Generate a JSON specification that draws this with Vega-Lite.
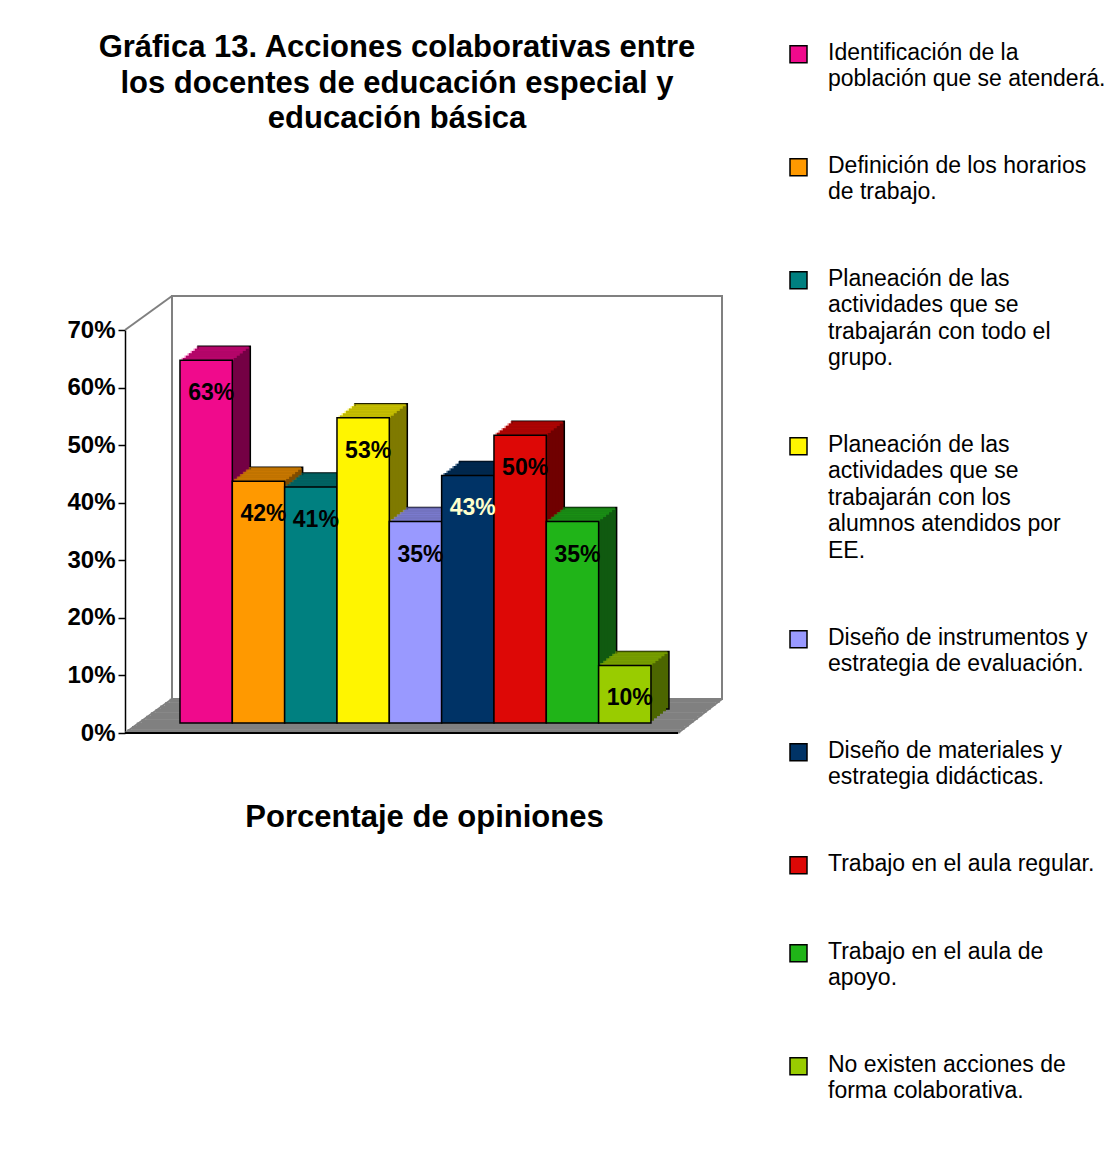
{
  "$schema": "https://vega.github.io/schema/vega-lite/v6.json",
  "autosize": "none",
  "width": 550,
  "height": 403,
  "padding": {"left": 172, "top": 296, "right": 398, "bottom": 477},
  "background": "white",
  "title": {
    "text": ["Gráfica 13. Acciones colaborativas entre", "los docentes de educación especial y", "educación básica"],
    "font": "Liberation Sans",
    "fontSize": 31,
    "fontWeight": "bold",
    "lineHeight": 35.5,
    "anchor": "middle",
    "frame": "group",
    "dx": -50,
    "offset": -105,
    "color": "black"
  },
  "data": {
    "values": [
      {"accion": "Identificación de la\npoblación que se atenderá.", "porcentaje": 0.63},
      {"accion": "Definición de los horarios\nde trabajo.", "porcentaje": 0.42},
      {"accion": "Planeación de las\nactividades que se\ntrabajarán con todo el\ngrupo.", "porcentaje": 0.41},
      {"accion": "Planeación de las\nactividades que se\ntrabajarán con los\nalumnos atendidos por\nEE.", "porcentaje": 0.53},
      {"accion": "Diseño de instrumentos y\nestrategia de evaluación.", "porcentaje": 0.35},
      {"accion": "Diseño de materiales y\nestrategia didácticas.", "porcentaje": 0.43},
      {"accion": "Trabajo en el aula regular.", "porcentaje": 0.50},
      {"accion": "Trabajo en el aula de\napoyo.", "porcentaje": 0.35},
      {"accion": "No existen acciones de\nforma colaborativa.", "porcentaje": 0.10}
    ]
  },
  "resolve": {"scale": {"x": "independent"}},
  "layer": [
    {
      "transform": [{"aggregate": [{"op": "count", "as": "n"}]}],
      "encoding": {
        "x": {"datum": 0, "type": "quantitative", "scale": {"domain": [0, 1], "nice": false, "zero": false}, "axis": null},
        "x2": {"datum": 1},
        "y": {"datum": 0}
      },
      "layer": [
        {"mark": {"type": "rule", "color": "#808080", "strokeWidth": 3.9, "xOffset": -44.65, "x2Offset": -41.8, "yOffset": -1.7}},
        {"mark": {"type": "rule", "color": "#808080", "strokeWidth": 3.9, "xOffset": -39.95, "x2Offset": -37.4, "yOffset": -5.1}},
        {"mark": {"type": "rule", "color": "#808080", "strokeWidth": 3.9, "xOffset": -35.25, "x2Offset": -33.0, "yOffset": -8.5}},
        {"mark": {"type": "rule", "color": "#808080", "strokeWidth": 3.9, "xOffset": -30.55, "x2Offset": -28.6, "yOffset": -11.9}},
        {"mark": {"type": "rule", "color": "#808080", "strokeWidth": 3.9, "xOffset": -25.85, "x2Offset": -24.2, "yOffset": -15.3}},
        {"mark": {"type": "rule", "color": "#808080", "strokeWidth": 3.9, "xOffset": -21.15, "x2Offset": -19.8, "yOffset": -18.7}},
        {"mark": {"type": "rule", "color": "#808080", "strokeWidth": 3.9, "xOffset": -16.45, "x2Offset": -15.4, "yOffset": -22.1}},
        {"mark": {"type": "rule", "color": "#808080", "strokeWidth": 3.9, "xOffset": -11.75, "x2Offset": -11.0, "yOffset": -25.5}},
        {"mark": {"type": "rule", "color": "#808080", "strokeWidth": 3.9, "xOffset": -7.05, "x2Offset": -6.6, "yOffset": -28.9}},
        {"mark": {"type": "rule", "color": "#808080", "strokeWidth": 3.9, "xOffset": -2.35, "x2Offset": -2.2, "yOffset": -32.3}},
        {"mark": {"type": "rule", "color": "#808080", "strokeWidth": 2, "xOffset": -47, "x2Offset": 0, "yOffset": 0, "y2Offset": -34}, "encoding": {"x2": {"datum": 0}, "y2": {"datum": 0}}},
        {"mark": {"type": "rule", "color": "#808080", "strokeWidth": 2, "xOffset": -44, "x2Offset": 0, "yOffset": 0, "y2Offset": -34}, "encoding": {"x": {"datum": 1}, "x2": {"datum": 1}, "y2": {"datum": 0}}},
        {"mark": {"type": "rule", "color": "#808080", "strokeWidth": 2, "xOffset": -47, "x2Offset": 0, "yOffset": 0, "y2Offset": -34}, "encoding": {"x2": {"datum": 0}, "y": {"datum": 0.7}, "y2": {"datum": 0.7}}},
        {"mark": {"type": "rule", "color": "black", "strokeWidth": 2, "xOffset": -47, "x2Offset": -44, "yOffset": 0}}
      ]
    },
    {
      "encoding": {
        "x": {
          "field": "accion",
          "type": "nominal",
          "sort": null,
          "scale": {"paddingInner": 0, "paddingOuter": 0.755, "align": 0.101},
          "axis": {
            "title": "Porcentaje de opiniones",
            "labels": false,
            "ticks": false,
            "domain": false,
            "titleFont": "Liberation Sans",
            "titleFontSize": 31,
            "titleFontWeight": "bold",
            "titleColor": "black",
            "titlePadding": 103,
            "titleX": 252
          }
        },
        "y": {
          "field": "porcentaje",
          "type": "quantitative",
          "scale": {"domain": [0, 0.7], "range": [437, 34], "nice": false, "zero": true},
          "axis": {
            "title": null,
            "values": [0, 0.1, 0.2, 0.3, 0.4, 0.5, 0.6, 0.7],
            "format": ".0%",
            "grid": false,
            "offset": 47,
            "domainColor": "black",
            "domainWidth": 1.5,
            "tickColor": "black",
            "tickSize": 7,
            "tickWidth": 1.5,
            "labelFont": "Liberation Sans",
            "labelFontSize": 24,
            "labelFontWeight": "bold",
            "labelColor": "black",
            "labelPadding": 3
          }
        }
      },
      "layer": [
        {"mark": {"type": "bar", "xOffset": 18, "yOffset": -24, "stroke": "black", "strokeWidth": 1.5}, "encoding": {"color": {"field": "accion", "type": "nominal", "sort": null, "scale": {"range": ["#740044", "#804C00", "#004040", "#7F7A00", "#4C4C80", "#001A33", "#700000", "#105A10", "#4C6600"]}, "legend": null}}},
        {"mark": {"type": "bar", "xOffset": 15, "yOffset": -21.667}, "encoding": {"color": {"field": "accion", "type": "nominal", "sort": null}}},
        {"mark": {"type": "bar", "xOffset": 12, "yOffset": -19.333}, "encoding": {"color": {"field": "accion", "type": "nominal", "sort": null}}},
        {"mark": {"type": "bar", "xOffset": 9, "yOffset": -17}, "encoding": {"color": {"field": "accion", "type": "nominal", "sort": null}}},
        {"mark": {"type": "bar", "xOffset": 6, "yOffset": -14.667}, "encoding": {"color": {"field": "accion", "type": "nominal", "sort": null}}},
        {"mark": {"type": "bar", "xOffset": 3, "yOffset": -12.333}, "encoding": {"color": {"field": "accion", "type": "nominal", "sort": null}}},
        {"mark": {"type": "tick", "orient": "horizontal", "size": 52.3, "thickness": 2.6, "fillOpacity": 0.5, "xOffset": 16.5, "yOffset": -22.833}, "encoding": {"fill": {"field": "accion", "type": "nominal", "sort": null}}},
        {"mark": {"type": "tick", "orient": "horizontal", "size": 52.3, "thickness": 2.6, "fillOpacity": 0.5, "xOffset": 13.5, "yOffset": -20.5}, "encoding": {"fill": {"field": "accion", "type": "nominal", "sort": null}}},
        {"mark": {"type": "tick", "orient": "horizontal", "size": 52.3, "thickness": 2.6, "fillOpacity": 0.5, "xOffset": 10.5, "yOffset": -18.167}, "encoding": {"fill": {"field": "accion", "type": "nominal", "sort": null}}},
        {"mark": {"type": "tick", "orient": "horizontal", "size": 52.3, "thickness": 2.6, "fillOpacity": 0.5, "xOffset": 7.5, "yOffset": -15.833}, "encoding": {"fill": {"field": "accion", "type": "nominal", "sort": null}}},
        {"mark": {"type": "tick", "orient": "horizontal", "size": 52.3, "thickness": 2.6, "fillOpacity": 0.5, "xOffset": 4.5, "yOffset": -13.5}, "encoding": {"fill": {"field": "accion", "type": "nominal", "sort": null}}},
        {"mark": {"type": "tick", "orient": "horizontal", "size": 52.3, "thickness": 2.6, "fillOpacity": 0.5, "xOffset": 1.5, "yOffset": -11.167}, "encoding": {"fill": {"field": "accion", "type": "nominal", "sort": null}}},
        {
          "mark": {"type": "bar", "yOffset": -10, "stroke": "black", "strokeWidth": 1.5, "fillOpacity": 1},
          "encoding": {
            "fill": {
              "field": "accion",
              "type": "nominal",
              "sort": null,
              "scale": {"range": ["#F00A8C", "#FF9900", "#008080", "#FFF500", "#9999FF", "#003366", "#DD0806", "#20B418", "#99CC00"]},
              "legend": {
                "title": null,
                "orient": "none",
                "legendX": 615,
                "legendY": -266,
                "padding": 0,
                "labelExpr": "split(datum.label, '\\n')",
                "labelBaseline": "top",
                "labelFont": "Liberation Sans",
                "labelFontSize": 23,
                "labelColor": "black",
                "labelLimit": 600,
                "labelOffset": 18,
                "rowPadding": 52,
                "symbolType": "M-1,0.5L1,0.5L1,2.5L-1,2.5Z",
                "symbolSize": 289,
                "symbolStrokeColor": "black",
                "symbolStrokeWidth": 1.5,
                "symbolOpacity": 1,
                "symbolFillOpacity": 1
              }
            }
          }
        },
        {
          "mark": {"type": "text", "font": "Liberation Sans", "fontSize": 23, "fontWeight": "bold", "dx": 5, "dy": 23, "baseline": "middle", "align": "center"},
          "encoding": {
            "text": {"field": "porcentaje", "type": "quantitative", "format": ".0%"},
            "color": {"condition": {"test": "indexof(datum.accion, 'materiales') >= 0", "value": "#FFFFCC"}, "value": "black"}
          }
        }
      ]
    }
  ],
  "config": {
    "font": "Liberation Sans",
    "view": {"stroke": "#808080", "strokeWidth": 2},
    "style": {"guide-label": {"lineHeight": 26.5}}
  }
}
